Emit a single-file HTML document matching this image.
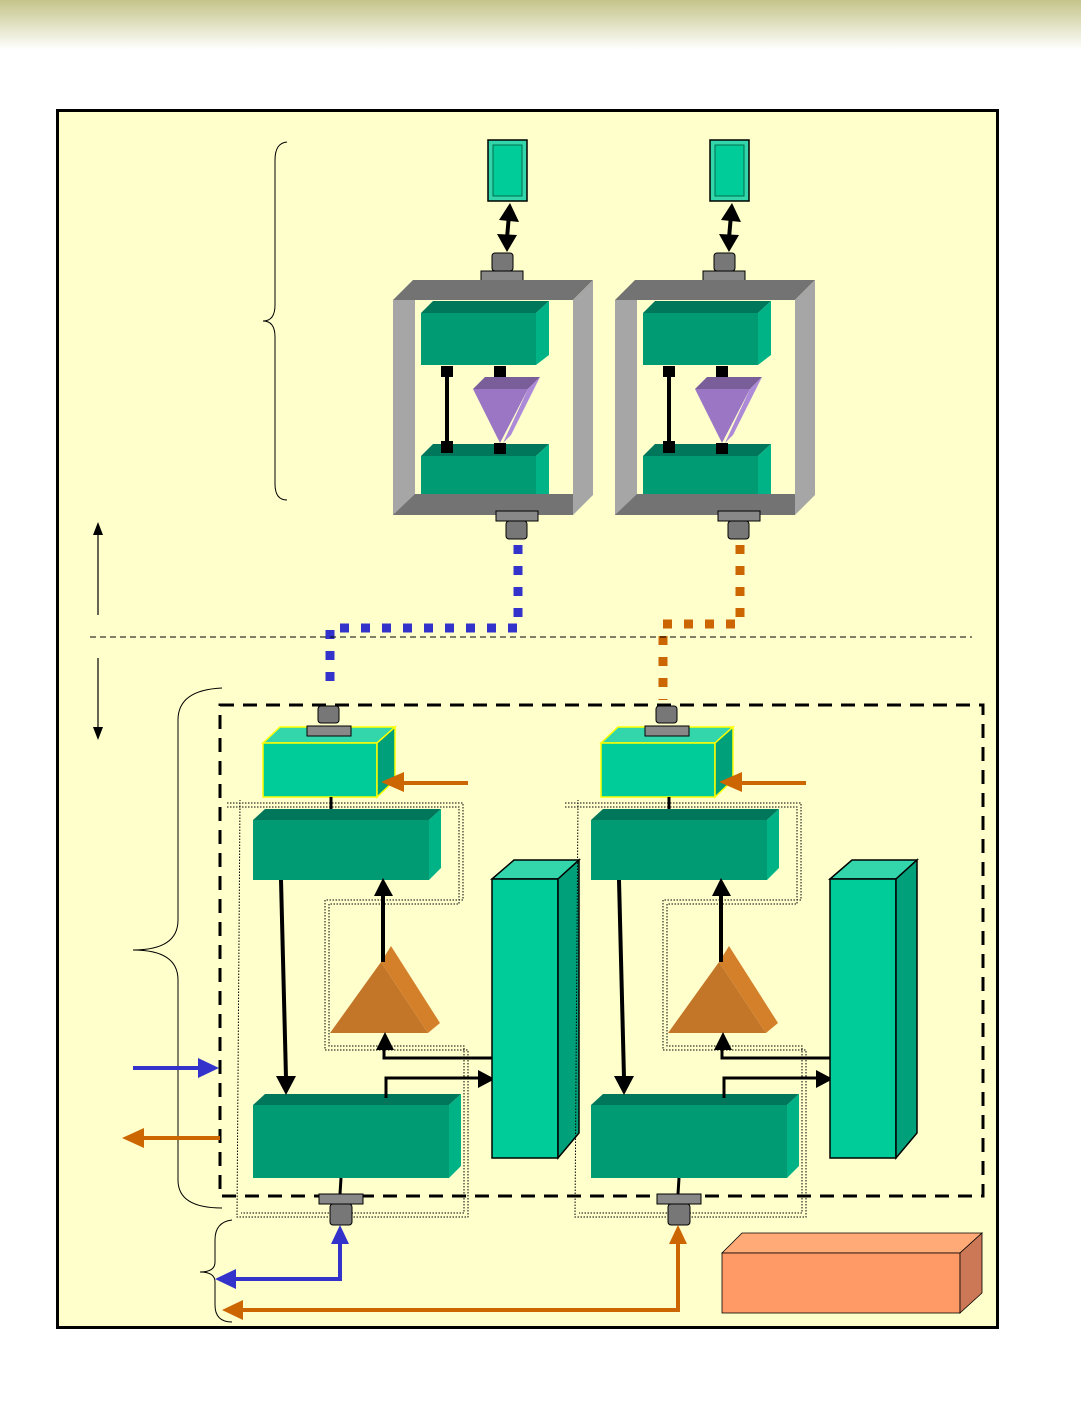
<!DOCTYPE html>
<html><head><meta charset="utf-8"><style>html,body{margin:0;padding:0;background:#fff}svg{display:block}</style></head>
<body>
<svg width="1081" height="1418" viewBox="0 0 1081 1418" xmlns="http://www.w3.org/2000/svg">
<defs>
<linearGradient id="hd" x1="0" y1="0" x2="0" y2="1"><stop offset="0" stop-color="#c4c48a"/><stop offset="1" stop-color="#ffffff"/></linearGradient>
<marker id="ab" markerWidth="6" markerHeight="6" refX="5" refY="3" orient="auto" markerUnits="strokeWidth"><path d="M0,0L6,3L0,6z" fill="#000"/></marker>
</defs>
<rect x="0" y="0" width="1081" height="50" fill="url(#hd)"/>
<rect x="57.5" y="110.5" width="940" height="1217" fill="#ffffcc" stroke="#000" stroke-width="3"/>

<!-- top assemblies -->
<g id="topA">
<rect x="488" y="140" width="39" height="61" fill="#33d6aa" stroke="#000" stroke-width="1.5"/>
<rect x="493" y="145" width="29" height="51" fill="#00cc99" stroke="#006e50" stroke-width="1"/>
<line x1="509" y1="215" x2="507" y2="238" stroke="#000" stroke-width="4"/>
<polygon points="499,220 510,203 519,222" fill="#000"/>
<polygon points="497,234 517,235 507,252" fill="#000"/>
<rect x="492" y="253" width="21" height="18" rx="3" fill="#777" stroke="#000"/>
<rect x="481" y="271" width="42" height="10" fill="#888" stroke="#000"/>
<polygon points="393,300 413,280 593,280 573,300" fill="#737373"/>
<rect x="393" y="300" width="22" height="215" fill="#a6a6a6"/>
<polygon points="421,313 433,301 549,301 536,313" fill="#00775a"/>
<rect x="421" y="313" width="115" height="52" fill="#009a73"/>
<polygon points="536,313 549,301 549,355 536,365" fill="#00b386"/>
<polygon points="421,456 433,444 549,444 536,456" fill="#00775a"/>
<rect x="421" y="456" width="115" height="40" fill="#009a73"/>
<polygon points="536,456 549,444 549,496 536,496" fill="#00b386"/>
<rect x="445" y="367" width="4" height="86" fill="#000"/>
<rect x="441" y="366" width="12" height="11" fill="#000"/>
<rect x="441" y="441" width="12" height="12" fill="#000"/>
<rect x="494" y="366" width="12" height="11" fill="#000"/>
<rect x="494" y="443" width="12" height="11" fill="#000"/>
<polygon points="473,389 485,377 540,377 528,389" fill="#7a5e9a"/>
<polygon points="473,389 528,389 500,443" fill="#9b76c4"/>
<polygon points="528,389 540,377 511,435 503,443" fill="#ad8ad8"/>
<polygon points="573,300 593,280 593,495 573,515" fill="#a6a6a6"/>
<polygon points="393,515 415,494 573,494 573,515" fill="#737373"/>
<rect x="496" y="511" width="42" height="10" fill="#888" stroke="#000"/>
<rect x="506" y="521" width="21" height="18" rx="3" fill="#777" stroke="#000"/>
</g>
<use href="#topA" transform="translate(222,0)"/>

<!-- dotted links -->
<path d="M518,545 V628 H330 V690" fill="none" stroke="#3333cc" stroke-width="9" stroke-dasharray="9 12"/>
<path d="M740,545 V624 H663 V700" fill="none" stroke="#cc6600" stroke-width="9" stroke-dasharray="9 12"/>

<line x1="90" y1="637" x2="972" y2="637" stroke="#000" stroke-width="1" stroke-dasharray="6 4"/>
<line x1="98" y1="530" x2="98" y2="615" stroke="#000" stroke-width="1.2"/>
<polygon points="93,535 98,522 103,535" fill="#000"/>
<line x1="98" y1="658" x2="98" y2="732" stroke="#000" stroke-width="1.2"/>
<polygon points="93,727 98,740 103,727" fill="#000"/>

<!-- braces -->
<path d="M287,142 Q275,143 275,160 V305 Q275,321 263,321 Q275,321 275,337 V484 Q275,500 287,500" fill="none" stroke="#000" stroke-width="1"/>
<path d="M222,688 Q178,690 178,720 V920 Q178,950 133,950 Q178,950 178,980 V1180 Q178,1208 222,1208" fill="none" stroke="#000" stroke-width="1"/>
<path d="M232,1220 Q215,1222 215,1240 V1262 Q215,1272 200,1272 Q215,1272 215,1282 V1305 Q215,1322 232,1322" fill="none" stroke="#000" stroke-width="1"/>

<rect x="220" y="705" width="763" height="491" fill="none" stroke="#000" stroke-width="3" stroke-dasharray="14 9"/>

<!-- module -->
<g id="modA">
<path d="M227,803 H463 V900 H325 V1050 H468 V1217 H237 L240,800" fill="none" stroke="#000" stroke-width="1" stroke-dasharray="1.5 1.5"/>
<path d="M227,807 H459 V904 H329 V1046 H464 V1213 H241" fill="none" stroke="#000" stroke-width="1" stroke-dasharray="1.5 1.5"/>
<polygon points="263,743 280,727 395,727 377,743" fill="#33d6aa" stroke="#ffff00" stroke-width="1.5"/>
<rect x="263" y="743" width="114" height="54" fill="#00cc99" stroke="#ffff00" stroke-width="1.5"/>
<polygon points="377,743 395,727 395,780 377,797" fill="#00a07a" stroke="#ffff00" stroke-width="1.5"/>
<rect x="318" y="706" width="21" height="17" rx="3" fill="#777" stroke="#000"/>
<rect x="307" y="726" width="44" height="10" fill="#888" stroke="#000"/>
<line x1="468" y1="783" x2="400" y2="783" stroke="#cc6600" stroke-width="4"/>
<polygon points="404,772 381,782 404,792" fill="#cc6600"/>
<line x1="331" y1="797" x2="331" y2="809" stroke="#000" stroke-width="3"/>
<polygon points="253,820 265,809 441,809 429,820" fill="#00775a"/>
<rect x="253" y="820" width="176" height="60" fill="#009a73"/>
<polygon points="429,820 441,809 441,868 429,880" fill="#00b386"/>
<polygon points="330,1033 381,962 428,1033" fill="#c47628"/>
<polygon points="381,962 391,946 440,1023 428,1033" fill="#d4802b"/>
<line x1="383" y1="962" x2="383" y2="895" stroke="#000" stroke-width="4"/>
<polygon points="374,896 383,878 393,896" fill="#000"/>
<polyline points="493,1058 384,1058 384,1048" fill="none" stroke="#000" stroke-width="3"/>
<polygon points="376,1050 385,1032 394,1050" fill="#000"/>
<polygon points="253,1105 265,1094 461,1094 449,1105" fill="#00775a"/>
<rect x="253" y="1105" width="196" height="73" fill="#009a73"/>
<polygon points="449,1105 461,1094 461,1166 449,1178" fill="#00b386"/>
<line x1="281" y1="880" x2="286" y2="1078" stroke="#000" stroke-width="4"/>
<polygon points="276,1076 296,1076 286,1095" fill="#000"/>
<polyline points="386,1098 386,1078 480,1078" fill="none" stroke="#000" stroke-width="3"/>
<polygon points="478,1070 495,1079 478,1088" fill="#000"/>
<polygon points="492,879 514,860 579,860 558,879" fill="#33d6aa" stroke="#000" stroke-width="1.5"/>
<rect x="492" y="879" width="66" height="279" fill="#00cc99" stroke="#000" stroke-width="1.5"/>
<polygon points="558,879 579,860 579,1133 558,1158" fill="#00a07a" stroke="#000" stroke-width="1.5"/>
<line x1="341" y1="1178" x2="340" y2="1194" stroke="#000" stroke-width="3"/>
<rect x="319" y="1194" width="44" height="10" fill="#888" stroke="#000"/>
<rect x="330" y="1204" width="22" height="21" rx="3" fill="#777" stroke="#000"/>
</g>
<use href="#modA" transform="translate(338,0)"/>

<!-- side arrows -->
<line x1="133" y1="1068" x2="202" y2="1068" stroke="#3333cc" stroke-width="4"/>
<polygon points="198,1058 219,1068 198,1078" fill="#3333cc"/>
<line x1="220" y1="1138" x2="140" y2="1138" stroke="#cc6600" stroke-width="4"/>
<polygon points="144,1128 122,1138 144,1148" fill="#cc6600"/>

<!-- bottom loops -->
<polyline points="340,1240 340,1279 232,1279" fill="none" stroke="#3333cc" stroke-width="4"/>
<polygon points="331,1244 340,1225 349,1244" fill="#3333cc"/>
<polygon points="236,1269 215,1279 236,1289" fill="#3333cc"/>
<polyline points="678,1242 678,1310 240,1310" fill="none" stroke="#cc6600" stroke-width="4"/>
<polygon points="669,1244 678,1225 687,1244" fill="#cc6600"/>
<polygon points="243,1300 222,1310 243,1320" fill="#cc6600"/>

<polygon points="722,1253 742,1233 982,1233 960,1253" fill="#ffaa77" stroke="#000" stroke-width="0.8"/>
<rect x="722" y="1253" width="238" height="60" fill="#ff9966" stroke="#000" stroke-width="0.8"/>
<polygon points="960,1253 982,1233 982,1293 960,1313" fill="#cc7755" stroke="#000" stroke-width="0.8"/>
</svg>
</body></html>
